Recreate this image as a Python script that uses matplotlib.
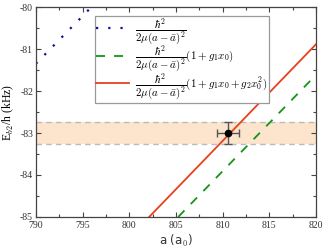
import matplotlib
matplotlib.use('Agg')
import matplotlib.pyplot as plt
from matplotlib.ticker import MultipleLocator

plt.rcParams['mathtext.fontset'] = 'cm'
plt.rcParams['axes.unicode_minus'] = False

# Data
a_univ = [790.0, 795.95]
e_univ = [-81.35, -80.0]

a_g1 = [805.25, 820.0]
e_g1 = [-85.0, -81.62]

a_g2 = [802.14, 820.0]
e_g2 = [-85.0, -80.89]

a_meas = [810.6]
e_meas = [-83.0]
a_err = [1.18]
e_err = [0.26]

band_center = -83.0
band_half = 0.26

labels = [r'$\dfrac{\hbar^2}{2\mu(a-\bar{a})^2}$',
          r'$\dfrac{\hbar^2}{2\mu(a-\bar{a})^2}(1+g_1x_0)$',
          r'$\dfrac{\hbar^2}{2\mu(a-\bar{a})^2}(1+g_1x_0+g_2x_0^2)$']

fig = plt.figure(figsize=(3.29, 2.52), dpi=100)
ax = fig.add_axes([0.109, 0.139, 0.851, 0.833])

ax.axhspan(band_center - band_half, band_center + band_half, color='#fde4cc', lw=0, zorder=0)
ax.axhline(band_center - band_half, color='#bbbbbb', ls='--', lw=1, dashes=(4, 3), zorder=1)
ax.axhline(band_center + band_half, color='#bbbbbb', ls='--', lw=1, dashes=(4, 3), zorder=1)

ax.plot(a_univ, e_univ, color='#1010a0', ls=':', lw=1.6, dashes=(1, 4.5), label=labels[0])
ax.plot(a_g1, e_g1, color='#149414', ls='--', lw=1.3, dashes=(5, 5), label=labels[1])
ax.plot(a_g2, e_g2, color='#e8401a', ls='-', lw=1.3, label=labels[2])

ax.errorbar(a_meas, e_meas, xerr=a_err, yerr=e_err, fmt='o', color='black', ms=4.5,
            ecolor='#555555', elinewidth=1, capsize=3, capthick=1, zorder=5)

ax.set_xlim(790, 820)
ax.set_ylim(-85, -80)
ax.xaxis.set_major_locator(MultipleLocator(5))
ax.xaxis.set_minor_locator(MultipleLocator(2.5))
ax.yaxis.set_major_locator(MultipleLocator(1))
ax.yaxis.set_minor_locator(MultipleLocator(0.5))
ax.tick_params(which='both', direction='in', top=True, right=True, labelsize=7,
               color='#444444', width=0.8)
ax.tick_params(which='major', length=3.5)
ax.tick_params(axis='y', which='major', pad=2)
ax.tick_params(axis='x', which='major', pad=3)
ax.tick_params(which='minor', length=2)
for lab in ax.get_xticklabels() + ax.get_yticklabels():
    lab.set_family('Liberation Serif')
    lab.set_color('#333333')
for sp in ax.spines.values():
    sp.set_color('#444444')
    sp.set_linewidth(0.9)

ax.set_xlabel(r'a (a$_0$)', fontsize=8.5, family='DejaVu Sans', color='#333333', labelpad=2)
ax.set_ylabel(r'E$_{b2}$/h (kHz)', fontsize=8.5, family='Liberation Serif', labelpad=3)

leg = ax.legend(loc='upper left', bbox_to_anchor=(0.19, 0.985), fontsize=7.9,
                fancybox=False, edgecolor='#999999', framealpha=1, handlelength=3.0,
                labelspacing=-0.25, borderpad=0.1, handletextpad=0.6)
leg.get_frame().set_linewidth(0.9)

fig.savefig('out.png', dpi=100)
